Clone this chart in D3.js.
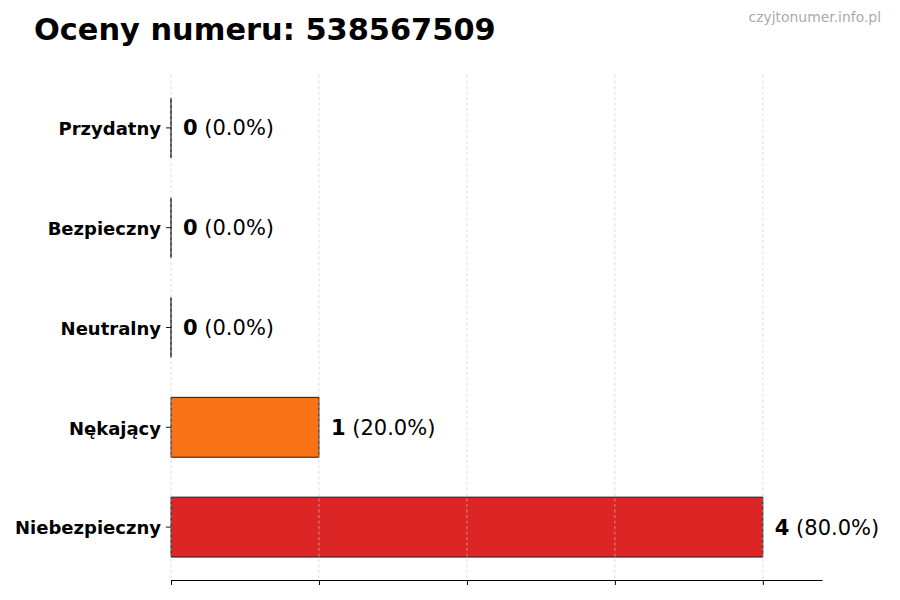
<!DOCTYPE html>
<html><head><meta charset="utf-8">
<script src="https://cdn.jsdelivr.net/npm/d3@7"></script>
<style>body{margin:0;background:#fff}svg{display:block;font-family:"DejaVu Sans",sans-serif}</style>
</head><body><svg id="c" width="900" height="600"></svg>
<script>
const title = "Oceny numeru: 538567509";
const watermark = "czyjtonumer.info.pl";
const categories = ["Przydatny", "Bezpieczny", "Neutralny", "Nękający", "Niebezpieczny"];
const values = [0, 0, 0, 1, 4];
const percents = ["0.0%", "0.0%", "0.0%", "20.0%", "80.0%"];
const colors = ["#22c55e", "#3b82f6", "#9ca3af", "#f97316", "#dc2626"];
const xTicks = [0, 1, 2, 3, 4];

const svg = d3.select("#c");
const plotL = 171, plotR = 822, plotT = 75, plotB = 580;
const x = d3.scaleLinear().domain([0, 4.4]).range([plotL, plotR]);
const n = categories.length;
const y = d3.scaleLinear().domain([-0.53, n - 1 + 0.53]).range([plotB, plotT]);
const yPos = (i) => y(n - 1 - i);
const barH = y(0) - y(0.6);

svg.append("text").attr("x", 34).attr("y", 40).attr("font-size", 30.4).attr("font-weight", "bold").attr("fill", "#000").text(title);
svg.append("text").attr("x", 881).attr("y", 22).attr("text-anchor", "end").attr("font-size", 13.9).attr("fill", "#aaaaaa").text(watermark);

// bars
const g = svg.append("g");
categories.forEach((c, i) => {
  const x0 = x(0), x1 = x(values[i]);
  const y0 = yPos(i) - barH / 2, y1 = yPos(i) + barH / 2;
  g.append("path").attr("d", `M${x0},${y0}H${x1}V${y1}H${x0}Z`)
    .attr("fill", colors[i]).attr("stroke", "#1a1a1a").attr("stroke-width", 1);
});

// grid
svg.append("g").selectAll("line").data(xTicks).join("line")
  .attr("x1", d => x(d)).attr("x2", d => x(d)).attr("y1", plotT).attr("y2", plotB)
  .attr("stroke", "#cccccc").attr("stroke-width", 0.8).attr("stroke-dasharray", "3,2.5").attr("opacity", 0.8);

// x axis
const xa = svg.append("g").attr("transform", `translate(0,${plotB})`)
  .call(d3.axisBottom(x).tickValues(xTicks).tickFormat("").tickSize(5).tickSizeOuter(0));
xa.select(".domain").attr("stroke", "#000").attr("stroke-width", 1);
xa.selectAll(".tick line").attr("stroke", "#000");

// y ticks and labels
const yg = svg.append("g");
categories.forEach((c, i) => {
  yg.append("line").attr("x1", plotL - 5).attr("x2", plotL).attr("y1", yPos(i)).attr("y2", yPos(i)).attr("stroke", "#000").attr("stroke-width", 0.9);
  yg.append("text").attr("x", plotL - 10).attr("y", yPos(i)).attr("dy", "0.4em").attr("text-anchor", "end")
    .attr("font-size", 18).attr("font-weight", "bold").attr("fill", "#000").text(c);
});

// value labels
categories.forEach((c, i) => {
  const t = svg.append("text").attr("x", x(values[i]) + 12).attr("y", yPos(i)).attr("dy", "0.36em")
    .attr("font-size", 21).attr("fill", "#000");
  t.append("tspan").attr("font-weight", "bold").text(values[i]);
  t.append("tspan").text(" (" + percents[i] + ")");
});
</script></body></html>
